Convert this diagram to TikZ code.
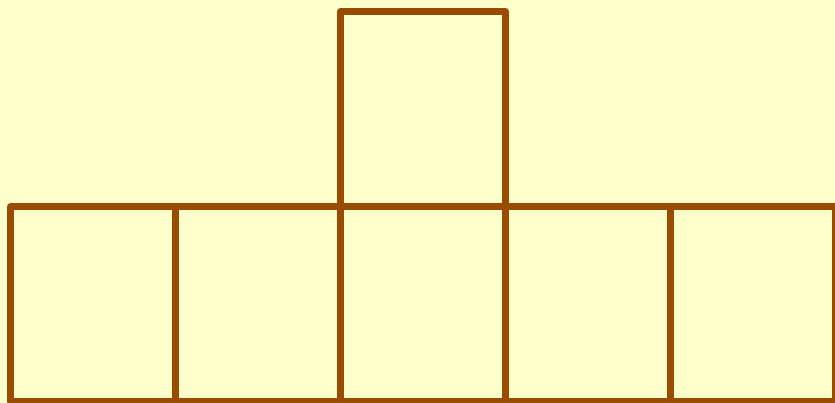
\documentclass[tikz,border=0pt]{standalone}
\definecolor{bg}{HTML}{FFFFCC}
\definecolor{brn}{HTML}{994C00}
\begin{document}
\begin{tikzpicture}[x=1pt,y=-1pt,
  netline/.style={draw=brn,line width=7pt,line join=round,line cap=round}]
\fill[bg] (0,0) rectangle (835,403);
\useasboundingbox (0,0) rectangle (835,403);
% bottom row
\draw[netline] (10.5,207) rectangle (835.5,401);
\foreach \x in {175.5,340.5,505.5,670.5}
  \draw[netline] (\x,207) -- (\x,401);
% top square
\draw[netline] (340.5,207) -- (340.5,11.5) -- (505.5,11.5) -- (505.5,207);
\end{tikzpicture}
\end{document}
